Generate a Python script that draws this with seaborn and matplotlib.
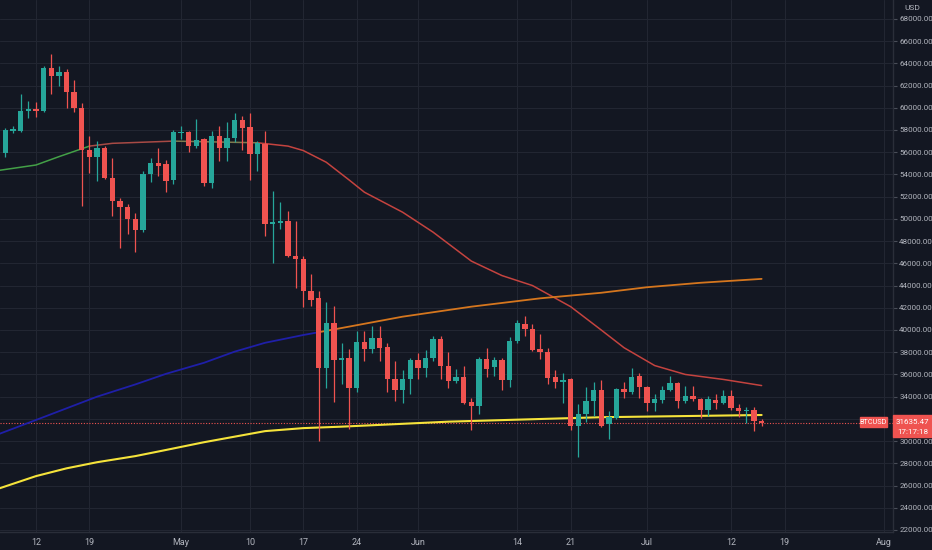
import numpy as np
import pandas as pd
import matplotlib
matplotlib.use("Agg")
import matplotlib.pyplot as plt
from matplotlib.patches import Rectangle
import seaborn as sns

# daily candles, first one is 2021-04-07
start_date = "2021-04-07"
opens = [58000, 55900, 57900, 57900, 59700, 59900, 59750, 63600, 62900, 63200,
         61400, 60000, 56200, 55600, 56400, 53700, 51600, 51100, 50000, 49000,
         54000, 55000, 54900, 53500,
         57700, 57800, 56600, 57200, 53200, 57500, 56400, 57300, 58900, 58300,
         55800, 56700, 49500, 49600, 49800, 46700, 46400, 43500, 42900, 36600,
         40600, 37300, 37500, 34800, 38900, 38300, 39300, 38500, 35600, 34600,
         35600,
         37300, 36600, 37500, 39200, 36800, 35400, 35800, 33500, 33200, 37400,
         36700, 37300, 35500, 39000, 40500, 40100, 38300, 38000, 35800, 35300,
         35600, 31400, 32400, 33600, 34600, 31500, 32100, 34700, 34400, 35900,
         34900, 33400, 33700, 34600, 35200, 33600, 34100, 33800, 32800, 33700,
         33400, 34100, 33000, 32700, 32800, 31800]
highs = [58600, 58200, 58400, 61200, 60600, 60500, 63800, 64800, 63800, 63500,
         62500, 60400, 57500, 57000, 56600, 55500, 51900, 51300, 50500, 54300,
         55500, 56400, 55300, 58000,
         58400, 57900, 59000, 57300, 57900, 58400, 58700, 59500, 59300, 59500,
         57000, 57900, 52500, 51500, 50700, 49800, 46700, 45000, 43500, 42500,
         42200, 38800, 38300, 39900, 39900, 40400, 40400, 38800, 37200, 36400,
         37500,
         37900, 38200, 39500, 39500, 38000, 36500, 36800, 33900, 37600, 38400,
         37600, 37500, 39400, 40900, 41300, 40500, 39600, 38400, 36400, 36100,
         35700, 33300, 34900, 35300, 35500, 32700, 34800, 35300, 36600, 36100,
         35000, 34200, 35000, 35900, 35300, 35000, 35000, 33900, 34100, 34200,
         34600, 34600, 33300, 33100, 33100, 31950]
lows = [55500, 55600, 57700, 57800, 59100, 59200, 59600, 61200, 62000, 60000,
        59600, 51200, 54100, 53400, 53600, 50300, 47400, 48600, 47000, 48800,
        53300, 53900, 52400, 53100,
        57200, 56000, 56400, 53000, 52800, 55200, 55200, 56900, 56200, 53500,
        54300, 48500, 46000, 49100, 46600, 43800, 42100, 42200, 30000, 34800,
        33500, 35100, 31050, 34400, 37200, 37900, 37200, 34400, 33600, 33400,
        34200,
        35600, 35800, 37200, 35600, 34800, 35200, 33300, 31000, 32400, 35800,
        35900, 34600, 34900, 38800, 39500, 38100, 37400, 35100, 34800, 33400,
        31000, 28600, 31700, 32300, 31300, 30200, 32000, 33900, 34200, 33900,
        32700, 32700, 33400, 34500, 33000, 33400, 33600, 32100, 32300, 32900,
        33300, 32800, 32200, 31600, 30900, 31400]
closes = [56000, 58000, 58050, 59700, 59900, 59750, 63600, 62900, 63200, 61400,
          60000, 56200, 55600, 56400, 53700, 51600, 51100, 50000, 49000, 54000,
          55000, 54800, 53400, 57800,
          57800, 56600, 57100, 53200, 57500, 56400, 57300, 58900, 58200, 55800,
          56800, 49500, 49700, 49800, 46700, 46400, 43500, 42700, 36600, 40600,
          37300, 37500, 34800, 38900, 38300, 39300, 38400, 35600, 34600, 35600,
          37300,
          36600, 37500, 39200, 36800, 35400, 35800, 33400, 33200, 37400, 36500,
          37300, 35500, 39000, 40600, 40100, 38200, 38000, 35700, 35300, 35500,
          31400, 32400, 33600, 34600, 31400, 32200, 34700, 34400, 35800, 34900,
          33400, 33800, 34600, 35200, 33600, 34100, 33800, 32800, 33800, 33400,
          34100, 33000, 32700, 32800, 31800, 31635.47]

# moving averages
ma50_dates = ["2021-04-07", "2021-04-12", "2021-04-15", "2021-04-19", "2021-04-22",
              "2021-04-30", "2021-05-11", "2021-05-15", "2021-05-17", "2021-05-20",
              "2021-05-23", "2021-05-25", "2021-05-30", "2021-06-03", "2021-06-08",
              "2021-06-12", "2021-06-16", "2021-06-21", "2021-06-25", "2021-06-28",
              "2021-07-02", "2021-07-06", "2021-07-11", "2021-07-16"]
ma50_vals = [54350, 54850, 55600, 56550, 56800, 57000, 56850, 56550, 56150, 55100,
             53500, 52400, 50600, 48800, 46200, 44900, 44000, 42100, 40000, 38400,
             36800, 36000, 35550, 35000]
ma50_breaks = ["2021-04-19", "2021-04-30", "2021-05-11"]
ma50_colors = ["#43a047", "#a84a45", "#7d7a4e", "#c4433f"]

ma100_dates = ["2021-04-07", "2021-04-12", "2021-04-16", "2021-04-20", "2021-04-25",
               "2021-04-29", "2021-05-04", "2021-05-08", "2021-05-12", "2021-05-17",
               "2021-05-19", "2021-05-21", "2021-05-30", "2021-06-08", "2021-06-17",
               "2021-06-25", "2021-07-01", "2021-07-08", "2021-07-16"]
ma100_vals = [30600, 31900, 32950, 34000, 35100, 36050, 37050, 38050, 38850, 39550,
              39800, 40050, 41200, 42100, 42850, 43350, 43850, 44250, 44600]
ma100_break = "2021-05-19"

ma200_dates = ["2021-04-07", "2021-04-12", "2021-04-16", "2021-04-20", "2021-04-25",
               "2021-04-29", "2021-05-04", "2021-05-08", "2021-05-12", "2021-05-17",
               "2021-05-22", "2021-06-05", "2021-06-25", "2021-07-16"]
ma200_vals = [25700, 26850, 27550, 28100, 28650, 29200, 29900, 30400, 30900, 31170,
              31300, 31750, 32150, 32350]

x_tick_dates = ["2021-04-12", "2021-04-19", "2021-05-01", "2021-05-10", "2021-05-17",
                "2021-05-24", "2021-06-01", "2021-06-14", "2021-06-21", "2021-07-01",
                "2021-07-12", "2021-07-19", "2021-08-01"]
x_tick_labels = ["12", "19", "May", "10", "17", "24", "Jun", "14", "21", "Jul",
                 "12", "19", "Aug"]
y_ticks = list(range(22000, 70000, 2000))

BG = "#131722"
GRID = "#222632"
TEXT = "#b2b5be"
UP = "#26a69a"
DOWN = "#ef5350"

sns.set_style("dark", rc={"axes.facecolor": BG, "figure.facecolor": BG,
                          "axes.edgecolor": "#2a2e39", "text.color": TEXT,
                          "xtick.color": TEXT, "ytick.color": TEXT})
plt.rcParams["font.family"] = ["Roboto", "DejaVu Sans"]

W, H = 932, 550
fig = plt.figure(figsize=(W / 100, H / 100), dpi=100)
ax = fig.add_axes([0, 18 / H, 893 / W, 532 / H])

df = pd.DataFrame({"date": pd.date_range(start_date, periods=len(opens), freq="D"),
                   "open": opens, "high": highs, "low": lows, "close": closes})
up = df["close"] >= df["open"]
colors = np.where(up, UP, DOWN)

# grid
for d in x_tick_dates:
    ax.axvline(pd.Timestamp(d), color=GRID, lw=0.8, zorder=0)
for v in y_ticks:
    ax.axhline(v, color=GRID, lw=0.8, zorder=0)

# moving averages
ma50 = pd.DataFrame({"date": pd.to_datetime(ma50_dates), "v": ma50_vals})
edges = [ma50["date"].min()] + list(pd.to_datetime(ma50_breaks)) + [ma50["date"].max()]
for i, c in enumerate(ma50_colors):
    seg = ma50[(ma50["date"] >= edges[i]) & (ma50["date"] <= edges[i + 1])]
    sns.lineplot(data=seg, x="date", y="v", color=c, lw=1.1, ax=ax, zorder=2)

ma100 = pd.DataFrame({"date": pd.to_datetime(ma100_dates), "v": ma100_vals})
brk = pd.Timestamp(ma100_break)
sns.lineplot(data=ma100[ma100["date"] <= brk], x="date", y="v", color="#1f1fa8",
             lw=1.3, ax=ax, zorder=2)
sns.lineplot(data=ma100[ma100["date"] >= brk], x="date", y="v", color="#d5761e",
             lw=1.3, ax=ax, zorder=2)

ma200 = pd.DataFrame({"date": pd.to_datetime(ma200_dates), "v": ma200_vals})
sns.lineplot(data=ma200, x="date", y="v", color="#f5e33b", lw=1.5, ax=ax, zorder=2)

# candles
ax.vlines(df["date"], df["low"], df["high"], colors=colors, lw=0.9, zorder=3)
body_lo = np.minimum(df["open"], df["close"])
body_h = np.maximum((df["close"] - df["open"]).abs(), 70)
ax.bar(df["date"], body_h, bottom=body_lo, width=0.7, color=colors,
       linewidth=0, zorder=4)

# last price line
last = closes[-1]
ax.axhline(last, color=DOWN, lw=0.8, ls=(0, (1, 1.5)), zorder=1)

ax.set_xlim(pd.Timestamp("2021-04-12") - pd.Timedelta(days=4.71),
            pd.Timestamp("2021-04-12") + pd.Timedelta(days=112.2))
ax.set_ylim(21820, 69700)
ax.set_xlabel("")
ax.set_ylabel("")
ax.grid(False)

ax.set_xticks(pd.to_datetime(x_tick_dates))
ax.set_xticklabels(x_tick_labels)
ax.yaxis.tick_right()
ax.set_yticks(y_ticks)
ax.set_yticklabels([f"{v:.2f}" for v in y_ticks])
ax.tick_params(axis="x", length=0, pad=4, labelsize=6.5, colors=TEXT)
ax.tick_params(axis="y", length=3, width=0.8, pad=1.5, labelsize=5.8,
               colors="#4a4e59", labelcolor=TEXT)
for s in ["top", "left"]:
    ax.spines[s].set_visible(False)
for s in ["right", "bottom"]:
    ax.spines[s].set_color("#2a2e39")
    ax.spines[s].set_linewidth(1)

fig.text(912 / W, 1 - 8 / H, "USD", ha="center", va="center", color=TEXT, fontsize=6)

# price labels on the axis
fig.add_artist(Rectangle((893 / W, 1 - 437 / H), 39 / W, 22 / H,
                         transform=fig.transFigure, color=DOWN, zorder=5))
fig.text(912.5 / W, 1 - 421.5 / H, f"{last:.2f}", ha="center", va="center",
         color="white", fontsize=5.8, zorder=6)
fig.text(912.5 / W, 1 - 431.5 / H, "17:17:18", ha="center", va="center",
         color="white", fontsize=5.8, zorder=6)
fig.add_artist(Rectangle((860 / W, 1 - 427 / H), 27 / W, 10 / H,
                         transform=fig.transFigure, color=DOWN, zorder=5))
fig.text(873.5 / W, 1 - 422 / H, "BTCUSD", ha="center", va="center",
         color="white", fontsize=5.2, zorder=6)

fig.savefig("out.png", dpi=100, facecolor=BG)
